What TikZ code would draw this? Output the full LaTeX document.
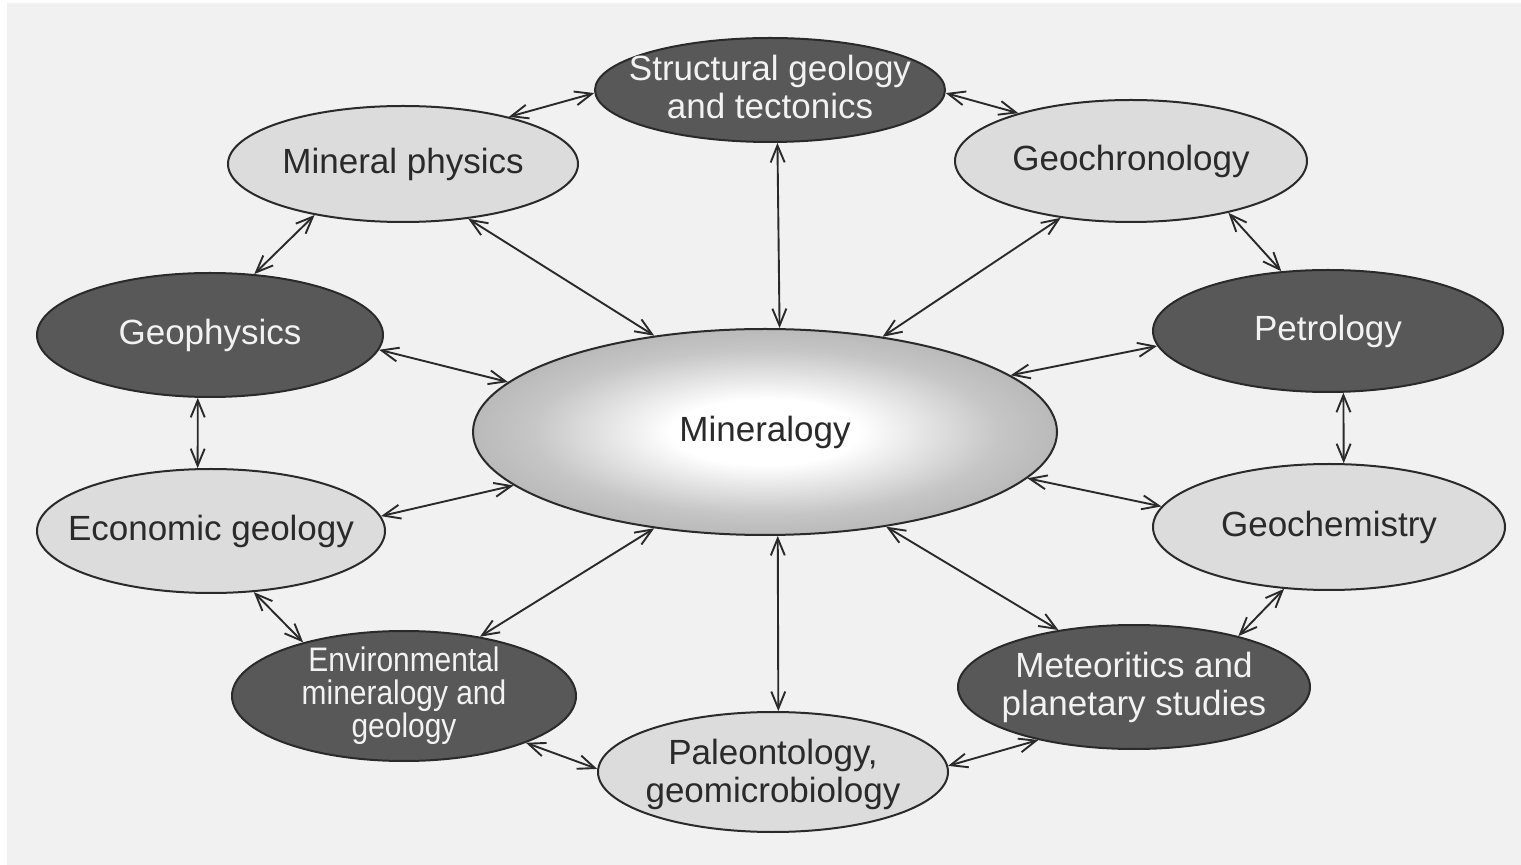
\documentclass[tikz,border=0pt]{standalone}
\usepackage{fontspec}
\setmainfont{Liberation Sans}
\newfontfamily\condfont[FakeStretch=0.88]{Liberation Sans}
\usetikzlibrary{shapes.geometric,arrows.meta}
\definecolor{paper}{HTML}{F1F1F1}
\definecolor{darkfill}{HTML}{585858}
\definecolor{lightfill}{HTML}{DCDCDC}
\definecolor{edgec}{HTML}{2A2A2A}
\definecolor{inkc}{HTML}{2A2A2A}
\definecolor{paletext}{HTML}{F2F2F2}
\pgfdeclareradialshading{minshade}{\pgfpoint{0bp}{0bp}}{color(0bp)=(white); color(8bp)=(white); color(20bp)=(gray!45); color(36bp)=(gray!75); color(50bp)=(gray!100)}
\begin{document}
\begin{tikzpicture}[x=0.5pt,y=-0.5pt,
  el/.style={ellipse, draw=edgec, line width=1pt, inner sep=0pt},
  darkel/.style={el, fill=darkfill},
  lightel/.style={el, fill=lightfill},
  dtxt/.style={text=paletext, align=center, font=\fontsize{17.5}{19}\selectfont},
  ltxt/.style={text=inkc, align=center, font=\fontsize{17.5}{19}\selectfont},
  ctxt/.style={text=paletext, align=center, font=\condfont\fontsize{17}{16.5}\selectfont},
  link/.style={draw=edgec, line width=0.95pt, {Straight Barb[length=8.5pt,width=7pt]}-{Straight Barb[length=8.5pt,width=7pt]}}
]
\fill[white] (0,0) rectangle (1521,865);
\fill[paper] (7,3) rectangle (1521,865);
\useasboundingbox (0,0) rectangle (1521,865);

% nodes
\node[darkel, minimum width=175pt, minimum height=52pt, label={[dtxt,yshift=1.5pt]center:{Structural geology\\and tectonics}}] (sg) at (770,90) {};
\node[lightel, minimum width=175pt, minimum height=58pt, label={[ltxt]center:{Mineral physics}}] (mp) at (403,164) {};
\node[lightel, minimum width=176pt, minimum height=61pt, label={[ltxt]center:{Geochronology}}] (gc) at (1131,161) {};
\node[darkel, minimum width=173pt, minimum height=62pt, label={[dtxt]center:{Geophysics}}] (gp) at (210,335) {};
\node[darkel, minimum width=175pt, minimum height=61pt, label={[dtxt]center:{Petrology}}] (pe) at (1328,331) {};
\node[el, shading=minshade, minimum width=292pt, minimum height=103pt, label={[ltxt]center:{Mineralogy}}] (mn) at (765,432) {};
\node[lightel, minimum width=174pt, minimum height=62pt, label={[ltxt]center:{Economic geology}}] (eg) at (211,531) {};
\node[lightel, minimum width=176pt, minimum height=63pt, label={[ltxt]center:{Geochemistry}}] (gch) at (1329,527) {};
\node[darkel, minimum width=172pt, minimum height=65pt, label={[ctxt]center:{Environmental\\mineralogy and\\geology}}] (env) at (404,696) {};
\node[darkel, minimum width=176pt, minimum height=62pt, label={[dtxt]center:{Meteoritics and\\planetary studies}}] (met) at (1134,687) {};
\node[lightel, minimum width=175pt, minimum height=60pt, label={[ltxt,yshift=-1pt]center:{Paleontology,\\geomicrobiology}}] (pal) at (773,772) {};

% connectors
\draw[link] (sg.181) -- (mp.24);
\draw[link] (sg.359) -- (gc.157);
\draw[link] (sg.278.7) -- (mn.82.8);
\draw[link] (mp.210) -- (gp.54);
\draw[link] (mp.320) -- (mn.139);
\draw[link] (gc.219) -- (mn.39);
\draw[link] (gc.332) -- (pe.128);
\draw[link] (gp.355) -- (mn.169);
\draw[link] (pe.185) -- (mn.13);
\draw[link] (gp.259) -- (eg.102);
\draw[link] (pe.284) -- (gch.77.5);
\draw[link] (eg.5) -- (mn.192);
\draw[link] (gch.173) -- (mn.350);
\draw[link] (eg.305.5) -- (env.152);
\draw[link] (mn.221) -- (env.38);
\draw[link] (mn.277.2) -- (pal.85.2);
\draw[link] (mn.322.6) -- (met.143.6);
\draw[link] (gch.234.6) -- (met.26.3);
\draw[link] (env.339) -- (pal.179);
\draw[link] (met.209) -- (pal.2);
\end{tikzpicture}
\end{document}
